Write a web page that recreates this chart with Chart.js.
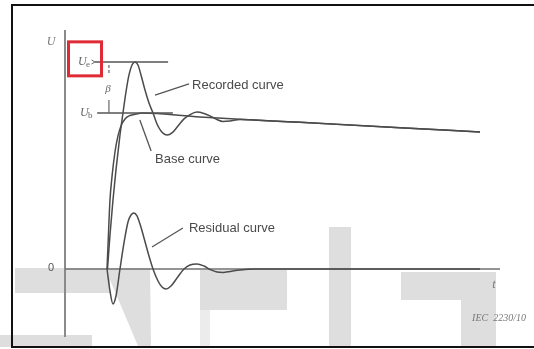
<!DOCTYPE html>
<html><head><meta charset="utf-8">
<script src="https://cdn.jsdelivr.net/npm/chart.js@4/dist/chart.umd.min.js"></script>
<style>html,body{margin:0;padding:0;background:#fff}canvas{display:block}</style>
</head><body>
<canvas id="c" width="534" height="349"></canvas>
<script>
// Axis ranges: time t in arbitrary units, voltage U in units of the base level Ub
const T_MIN = 0, T_MAX = 100;
const U_MIN = -0.436, U_MAX = 1.532;
const UB = 1.0;     // base level Ub
const UE = 1.327;   // extreme value Ue
const UE_LINE_T = [6.9, 23.7];
const UB_LINE_T = [7.4, 24.8];

// Recorded curve
const recordedT = [9.77, 10.34, 11.03, 11.72, 12.64, 13.33, 14.02, 14.71, 15.40, 16.09, 16.78, 17.47, 18.39, 19.31, 20.23, 21.15, 22.07, 23.45, 24.60, 25.98, 27.36, 28.74, 30.34, 31.95, 33.56, 34.94, 36.32, 37.93, 40.23, 42.53, 54.02, 77.01, 95.40];
const recordedU = [0, 0.218, 0.442, 0.635, 0.859, 1.0, 1.135, 1.244, 1.308, 1.327, 1.308, 1.244, 1.147, 1.064, 1.0, 0.929, 0.885, 0.859, 0.872, 0.917, 0.962, 0.990, 1.006, 0.997, 0.978, 0.958, 0.946, 0.949, 0.958, 0.956, 0.940, 0.906, 0.878];

// Base curve
const baseT = [9.66, 9.89, 10.34, 10.80, 11.49, 12.18, 12.87, 13.79, 14.94, 16.32, 17.70, 31.03, 54.02, 77.01, 95.40];
const baseU = [0, 0.154, 0.442, 0.590, 0.750, 0.853, 0.917, 0.962, 0.984, 0.993, 1.0, 0.974, 0.940, 0.906, 0.878];

// Residual curve
const residualT = [9.66, 10.34, 11.03, 11.72, 12.64, 13.56, 14.48, 15.17, 15.86, 16.55, 17.24, 18.16, 19.31, 20.23, 21.38, 22.30, 23.22, 24.37, 25.75, 27.36, 28.74, 30.34, 31.95, 33.56, 34.94, 36.32, 37.93, 40.23, 43.68, 95.40];
const residualU = [0, -0.141, -0.224, -0.173, 0, 0.167, 0.301, 0.346, 0.359, 0.340, 0.288, 0.199, 0.083, 0, -0.077, -0.115, -0.128, -0.109, -0.058, 0, 0.026, 0.032, 0.019, -0.006, -0.019, -0.022, -0.016, -0.006, 0, 0];

// Curve names with their label anchor and leader line (in t, U)
const curveLabels = [
  { text: 'Recorded curve', at: [29.2, 1.179], leader: [[20.7, 1.115], [28.5, 1.186]] },
  { text: 'Base curve', at: [20.7, 0.705], leader: [[17.2, 0.955], [19.8, 0.756]] },
  { text: 'Residual curve', at: [28.5, 0.263], leader: [[20.0, 0.141], [27.1, 0.263]] }
];

const pairs = (ts, us) => ts.map((t, i) => ({ x: t, y: us[i] }));
const CURVE = '#4b4b4b';

const curveStyle = {
  borderColor: CURVE, borderWidth: 1.5, pointRadius: 0,
  cubicInterpolationMode: 'monotone', fill: false
};

const figureMarks = {
  id: 'figureMarks',
  beforeDraw(chart) {
    const ctx = chart.ctx;
    ctx.save();
    ctx.fillStyle = '#fff';
    ctx.fillRect(0, 0, chart.width, chart.height);
    // light grey backdrop shapes
    ctx.fillStyle = '#dedede';
    ctx.fillRect(15, 268, 95, 25);
    ctx.beginPath();
    ctx.moveTo(105, 268); ctx.lineTo(150, 268); ctx.lineTo(151, 346); ctx.lineTo(138, 346);
    ctx.closePath(); ctx.fill();
    ctx.fillRect(200, 270, 87, 40);
    ctx.fillRect(329, 227, 22, 120);
    ctx.fillRect(401, 272, 95, 28);
    ctx.fillRect(461, 300, 35, 47);
    ctx.fillRect(0, 335, 92, 12);
    ctx.fillStyle = '#ececec';
    ctx.fillRect(200, 310, 10, 37);
    ctx.restore();
  },
  beforeDatasetsDraw(chart) {
    const { ctx, chartArea: a, scales: { x, y } } = chart;
    ctx.save();
    // U axis
    ctx.strokeStyle = '#8a8a8a'; ctx.lineWidth = 2;
    ctx.beginPath(); ctx.moveTo(x.getPixelForValue(T_MIN), a.top); ctx.lineTo(x.getPixelForValue(T_MIN), a.bottom); ctx.stroke();
    // t axis
    const y0 = y.getPixelForValue(0);
    ctx.strokeStyle = '#707070'; ctx.lineWidth = 1.5;
    ctx.beginPath(); ctx.moveTo(a.left, y0); ctx.lineTo(a.right, y0); ctx.stroke();
    ctx.restore();
  },
  afterDraw(chart) {
    const { ctx, chartArea: a, scales: { x, y } } = chart;
    const px = t => x.getPixelForValue(t), py = u => y.getPixelForValue(u);
    ctx.save();

    // leader lines and curve names
    ctx.strokeStyle = '#555'; ctx.lineWidth = 1.3;
    ctx.fillStyle = '#4a4a4a';
    ctx.font = '13px "Liberation Sans", Arial, sans-serif';
    ctx.textBaseline = 'middle'; ctx.textAlign = 'left';
    curveLabels.forEach(l => {
      ctx.beginPath();
      ctx.moveTo(px(l.leader[0][0]), py(l.leader[0][1]));
      ctx.lineTo(px(l.leader[1][0]), py(l.leader[1][1]));
      ctx.stroke();
      ctx.fillText(l.text, px(l.at[0]), py(l.at[1]));
    });

    // subscripted level labels
    const level = (main, sub, t, u) => {
      ctx.fillStyle = '#666';
      ctx.font = 'italic 12px "Liberation Serif", serif';
      ctx.textBaseline = 'middle'; ctx.textAlign = 'left';
      ctx.fillText(main, px(t), py(u));
      ctx.font = '9px "Liberation Serif", serif';
      ctx.fillText(sub, px(t) + 8, py(u) + 3);
    };
    level('U', 'e', 3.0, UE);
    level('U', 'b', 3.45, UB);

    // small arrow from the Ue label to its level line
    ctx.strokeStyle = '#666'; ctx.lineWidth = 1;
    const ay = py(UE);
    ctx.beginPath(); ctx.moveTo(px(6.1), ay - 2); ctx.lineTo(px(6.9), ay); ctx.lineTo(px(6.1), ay + 2); ctx.stroke();

    // beta span marks
    const bx = px(10.1);
    ctx.strokeStyle = '#666'; ctx.lineWidth = 1.2;
    ctx.setLineDash([3, 2]);
    ctx.beginPath(); ctx.moveTo(bx, py(UE) + 3); ctx.lineTo(bx, py(1.244)); ctx.stroke();
    ctx.setLineDash([]);
    ctx.beginPath(); ctx.moveTo(bx, py(1.083)); ctx.lineTo(bx, py(UB)); ctx.stroke();
    ctx.fillStyle = '#666';
    ctx.font = 'italic 11px "Liberation Serif", serif';
    ctx.textAlign = 'center'; ctx.textBaseline = 'middle';
    ctx.fillText('β', px(9.9), py(1.15));

    // highlight box round the Ue label
    ctx.strokeStyle = '#de2b36'; ctx.lineWidth = 3;
    const cx = px(4.6), cy = py(1.347);
    ctx.strokeRect(cx - 16.5, cy - 17, 33, 34);

    // axis labels
    ctx.fillStyle = '#777';
    ctx.font = 'italic 12px "Liberation Serif", serif';
    ctx.textAlign = 'center';
    ctx.fillText('U', a.left - 14, a.top + 12);
    ctx.fillText('t', a.right - 6, py(0) + 16);
    ctx.font = '11px "Liberation Sans", sans-serif';
    ctx.fillStyle = '#555';
    ctx.fillText('0', a.left - 14, py(0) - 1);
    ctx.font = 'italic 10px "Liberation Serif", serif';
    ctx.fillStyle = '#777';
    ctx.textAlign = 'right';
    ctx.fillText('IEC  2230/10', a.right + 26, 318);

    // frame
    ctx.strokeStyle = '#111'; ctx.lineWidth = 2;
    ctx.beginPath();
    ctx.moveTo(534, 5); ctx.lineTo(12, 5); ctx.lineTo(12, 347); ctx.lineTo(534, 347);
    ctx.stroke();
    ctx.restore();
  }
};

new Chart(document.getElementById('c'), {
  type: 'line',
  data: {
    datasets: [
      { label: 'Ue level', data: [{ x: UE_LINE_T[0], y: UE }, { x: UE_LINE_T[1], y: UE }], borderColor: '#555', borderWidth: 1.3, pointRadius: 0 },
      { label: 'Ub level', data: [{ x: UB_LINE_T[0], y: UB }, { x: UB_LINE_T[1], y: UB }], borderColor: '#555', borderWidth: 1.3, pointRadius: 0 },
      { label: 'Base curve', data: pairs(baseT, baseU), ...curveStyle },
      { label: 'Residual curve', data: pairs(residualT, residualU), ...curveStyle },
      { label: 'Recorded curve', data: pairs(recordedT, recordedU), ...curveStyle }
    ]
  },
  options: {
    responsive: false, animation: false, devicePixelRatio: 1,
    layout: { padding: { left: 65, right: 34, top: 30, bottom: 12 } },
    plugins: { legend: { display: false }, tooltip: { enabled: false } },
    scales: {
      x: { type: 'linear', min: T_MIN, max: T_MAX, display: false },
      y: { type: 'linear', min: U_MIN, max: U_MAX, display: false }
    }
  },
  plugins: [figureMarks]
});
</script>
</body></html>
